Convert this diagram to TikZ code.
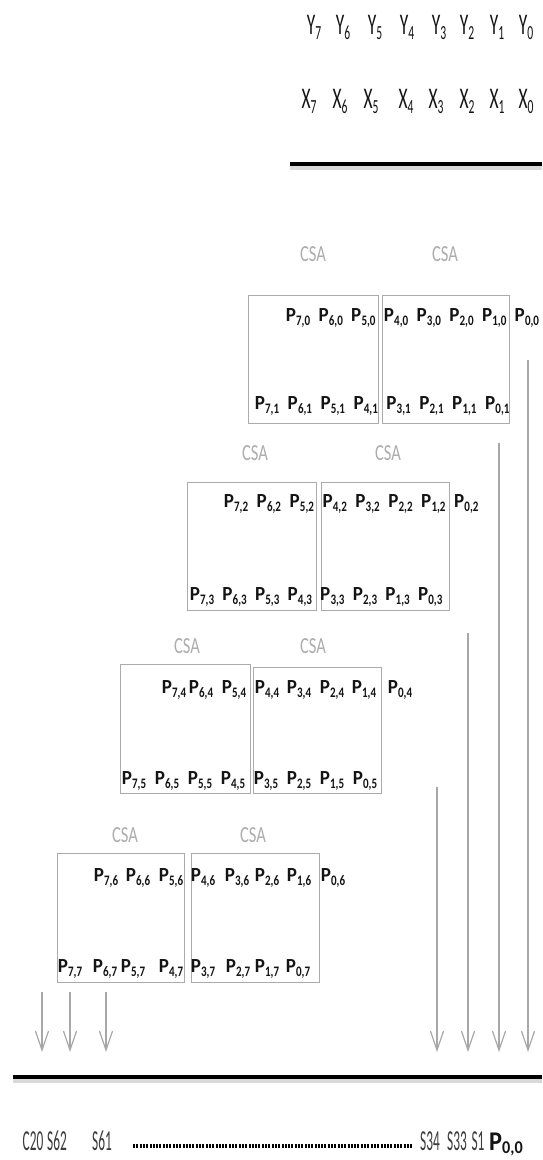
\documentclass[tikz,border=0pt]{standalone}
\usepackage{fontspec}
\setmainfont{Carlito}
\usetikzlibrary{arrows.meta}
\definecolor{boxgray}{HTML}{ABABAB}
\definecolor{csagray}{HTML}{ADADAD}
\definecolor{arrgray}{HTML}{A8A8A8}
\definecolor{txtdark}{HTML}{141414}
\definecolor{btxt}{HTML}{3C3C3C}
\newcommand\Plab[2]{\scalebox{0.95}[1]{\textbf{P}\kern0.2pt\raisebox{-4pt}{\scalebox{0.8}[1]{\fontsize{14.5}{14.5}\selectfont\bfseries #1,#2}}}}
\newcommand\XYlab[2]{\scalebox{0.58}[1]{#1\raisebox{-5pt}{\fontsize{20}{20}\selectfont #2}}}
\newcommand\Btxt[1]{\scalebox{0.46}[1]{#1}}
\newcommand\Csa{\scalebox{0.72}[1]{CSA}}
\begin{document}
\begin{tikzpicture}[x=1pt,y=-1pt,
  plab/.style={anchor=base, inner sep=0, font=\fontsize{20}{20}\selectfont, text=txtdark},
  xylab/.style={anchor=base, inner sep=0, font=\fontsize{30}{30}\selectfont, text=txtdark},
  csalab/.style={anchor=base, inner sep=0, font=\fontsize{23}{23}\selectfont, text=csagray},
  botlab/.style={anchor=base, inner sep=0, font=\fontsize{29}{29}\selectfont, text=btxt},
  csabox/.style={draw=boxgray, line width=0.9pt},
  garrow/.style={draw=arrgray, line width=1.2pt, -{Straight Barb[length=19pt,width=13pt,line width=1.2pt]}},
  busline/.style={draw=black, line width=4pt},
  busshadow/.style={draw=gray!30, line width=4pt}
]
\useasboundingbox[fill=white] (0,0) rectangle (542,1160);

% inputs
\foreach \i/\x in {7/314,6/343,5/375,4/407,3/439,2/467,1/497,0/526}
  \node[xylab] (y\i) at (\x,34) {\XYlab{Y}{\i}};
\foreach \i/\x in {7/309,6/340,5/371,4/406,3/436,2/467,1/497,0/526}
  \node[xylab] (x\i) at (\x,108) {\XYlab{X}{\i}};

% top bus line
\coordinate (tl) at (290,168);
\coordinate (tr) at (542,168);
\coordinate (tl0) at (290,164);
\coordinate (tr0) at (542,164);
\draw[busshadow] (tl) -- (tr);
\draw[busline] (tl0) -- (tr0);

% row 1
\node[csalab] (c1a) at (313,261) {\Csa};
\node[csalab] (c1b) at (445,261) {\Csa};
\draw[csabox] (248,295) rectangle (378,423);
\draw[csabox] (382,295) rectangle (509,423);
\foreach \i in {0,...,7}
  \node[plab] (r1t\i) at ({298+32.7*(7-\i)},321) {\Plab{\i}{0}};
\foreach \i in {0,...,7}
  \node[plab] (r1b\i) at ({267+32.9*(7-\i)},409) {\Plab{\i}{1}};

% row 2
\node[csalab] (c2a) at (255,460) {\Csa};
\node[csalab] (c2b) at (388,460) {\Csa};
\draw[csabox] (187,482) rectangle (316,610);
\draw[csabox] (321,482) rectangle (449,610);
\foreach \i in {0,...,7}
  \node[plab] (r2t\i) at ({236+32.9*(7-\i)},507) {\Plab{\i}{2}};
\foreach \i in {0,...,7}
  \node[plab] (r2b\i) at ({202+32.6*(7-\i)},600) {\Plab{\i}{3}};

% row 3
\node[csalab] (c3a) at (187,653) {\Csa};
\node[csalab] (c3b) at (313,653) {\Csa};
\draw[csabox] (120,664) rectangle (250,793);
\draw[csabox] (253,667) rectangle (381,793);
\foreach \i/\x in {7/174,6/201,5/234,4/267,3/299,2/332,1/364,0/400}
  \node[plab] (r3t\i) at (\x,693) {\Plab{\i}{4}};
\foreach \i in {0,...,7}
  \node[plab] (r3b\i) at ({134+33*(7-\i)},784) {\Plab{\i}{5}};

% row 4
\node[csalab] (c4a) at (125,842) {\Csa};
\node[csalab] (c4b) at (253,842) {\Csa};
\draw[csabox] (57,853) rectangle (184,982);
\draw[csabox] (191,853) rectangle (319,982);
\foreach \i/\x in {7/106,6/138,5/171,4/203,3/237,2/267,1/299,0/333}
  \node[plab] (r4t\i) at (\x,881) {\Plab{\i}{6}};
\foreach \i/\x in {7/70,6/105,5/133,4/171,3/203,2/238,1/267,0/298}
  \node[plab] (r4b\i) at (\x,972) {\Plab{\i}{7}};

% arrows
\coordinate (la1) at (42,992);  \coordinate (la1e) at (42,1052);
\coordinate (la2) at (70,992);  \coordinate (la2e) at (70,1052);
\coordinate (la3) at (106,992); \coordinate (la3e) at (106,1052);
\coordinate (ra1) at (437,787); \coordinate (ra1e) at (437,1052);
\coordinate (ra2) at (468,633); \coordinate (ra2e) at (468,1052);
\coordinate (ra3) at (499,443); \coordinate (ra3e) at (499,1052);
\coordinate (ra4) at (528,360); \coordinate (ra4e) at (528,1052);
\foreach \a in {la1,la2,la3,ra1,ra2,ra3,ra4}
  \draw[garrow] (\a) -- (\a e);

% bottom bus line
\coordinate (bl) at (13,1081);
\coordinate (br) at (542,1081);
\coordinate (bl0) at (13,1077);
\coordinate (br0) at (542,1077);
\draw[busshadow] (bl) -- (br);
\draw[busline] (bl0) -- (br0);

% result
\node[botlab] (s20) at (33,1150) {\Btxt{C20}};
\node[botlab] (s62) at (57,1150) {\Btxt{S62}};
\node[botlab] (s61) at (102,1150) {\Btxt{S61}};
\node[botlab] (s34) at (430,1150) {\Btxt{S34}};
\node[botlab] (s33) at (457,1150) {\Btxt{S33}};
\node[botlab] (s1) at (478,1150) {\Btxt{S1}};
\node[botlab, text=txtdark] (p00) at (506,1150) {\scalebox{0.9}[1]{\fontsize{27}{27}\selectfont\textbf{P}\raisebox{-3.5pt}{\fontsize{18}{18}\selectfont\bfseries 0,0}}};
\coordinate (dl) at (133,1146);
\coordinate (dr) at (413,1146);
\draw[draw=black, line width=4pt, dash pattern=on 2pt off 1.3pt] (dl) -- (dr);
\end{tikzpicture}
\end{document}
